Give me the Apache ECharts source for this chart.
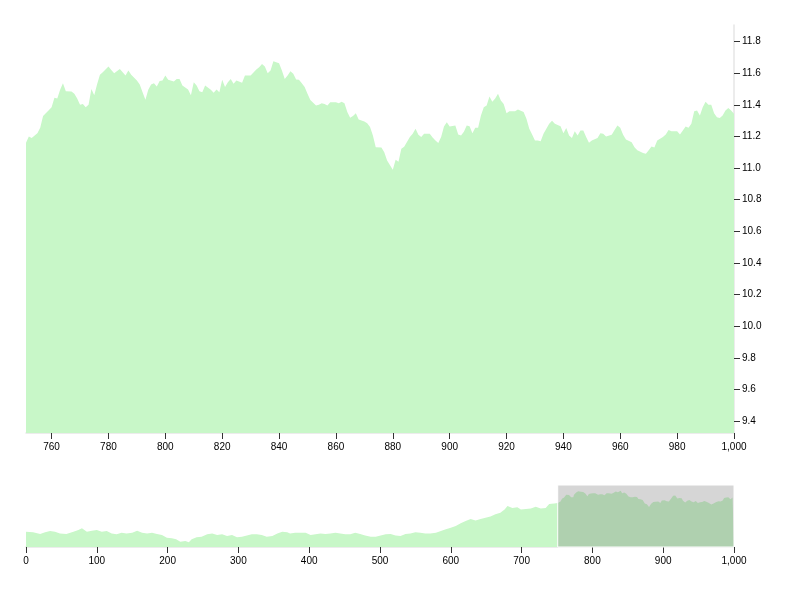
<!DOCTYPE html>
<html>
<head>
<meta charset="utf-8">
<script src="https://cdn.jsdelivr.net/npm/echarts@6/dist/echarts.min.js"></script>
<style>html,body{margin:0;padding:0;background:#fff}#c{width:800px;height:600px}</style>
</head>
<body>
<div id="c"></div>
<script>
// Overview (context) part of the series, 0..750
const ctxX = [0,10,20,27,34,41,48,57,67,74,79,86,93,100,107,114,121,128,135,142,150,157,164,171,178,185,192,199,206,212,218,225,230,234,241,248,256,263,270,277,284,291,298,305,312,319,326,333,340,348,355,362,369,373,380,388,395,402,409,416,423,430,437,444,451,458,465,472,479,487,494,501,508,515,522,529,536,543,550,557,564,571,579,586,593,600,607,614,621,628,635,642,649,656,663,670,676,680,687,694,699,706,713,720,727,734,739,746];
const ctxY = [9.96,9.94,9.87,9.94,9.99,9.96,9.89,9.87,9.96,10.03,10.10,9.96,10.0,10.03,9.96,9.99,9.89,9.85,9.92,9.89,9.92,10.0,9.92,9.89,9.92,9.87,9.82,9.71,9.69,9.645,9.545,9.57,9.52,9.645,9.73,9.75,9.85,9.89,9.82,9.85,9.78,9.82,9.73,9.75,9.80,9.85,9.85,9.82,9.75,9.78,9.89,9.96,9.94,9.89,9.92,9.92,9.92,9.82,9.85,9.89,9.87,9.89,9.92,9.89,9.85,9.85,9.92,9.87,9.80,9.75,9.75,9.80,9.85,9.87,9.80,9.78,9.87,9.89,9.94,9.92,9.89,9.89,9.92,9.99,10.06,10.13,10.20,10.31,10.41,10.49,10.43,10.49,10.54,10.59,10.69,10.75,10.89,11.03,10.95,10.98,10.89,10.91,10.93,11.0,10.93,10.95,11.11,11.13];
// Detailed (focus) part of the series, 751..1000
const mainX = [751,752,753,755,756,757,759,760,761,762,763,764,765,767,768,769,770,771,772,773,774,775,776,777,778,780,781,782,784,785,786,787,788,790,791,792,793,794,795,796,797,798,799,800,801,803,804,805,806,808,809,810,811,812,813,814,816,817,818,819,820,821,822,823,824,825,827,828,830,832,833,834,835,836,837,838,840,841,842,843,844,845,846,847,848,849,850,851,853,854,855,856,857,858,860,861,862,863,864,865,866,867,868,870,871,872,873,874,876,877,878,880,881,882,883,884,886,887,888,889,890,891,893,894,895,896,897,898,899,900,902,903,904,905,906,907,908,909,910,911,912,913,914,915,916,917,918,919,920,921,923,924,926,927,928,929,930,931,932,933,934,935,936,937,939,940,941,942,943,944,945,946,947,948,949,950,952,953,954,955,957,958,959,960,961,962,964,965,966,968,969,970,971,972,973,975,976,977,978,980,981,982,983,984,985,986,987,988,989,990,991,992,993,994,995,996,997,998,999,1000];
const mainY = [11.16,11.20,11.19,11.22,11.255,11.33,11.365,11.385,11.445,11.44,11.495,11.537,11.486,11.485,11.47,11.44,11.40,11.405,11.385,11.40,11.50,11.46,11.53,11.59,11.606,11.642,11.62,11.60,11.627,11.606,11.585,11.617,11.59,11.554,11.528,11.48,11.432,11.495,11.528,11.537,11.516,11.55,11.554,11.585,11.558,11.547,11.564,11.564,11.522,11.497,11.46,11.543,11.522,11.486,11.48,11.522,11.495,11.476,11.497,11.48,11.558,11.512,11.543,11.564,11.533,11.554,11.54,11.585,11.585,11.623,11.638,11.659,11.642,11.60,11.617,11.676,11.663,11.617,11.564,11.585,11.613,11.596,11.56,11.558,11.537,11.512,11.47,11.43,11.396,11.40,11.41,11.405,11.396,11.417,11.417,11.41,11.42,11.41,11.354,11.318,11.33,11.347,11.307,11.295,11.284,11.259,11.206,11.132,11.13,11.10,11.048,10.99,11.053,11.04,11.122,11.135,11.196,11.217,11.248,11.21,11.196,11.217,11.217,11.194,11.175,11.158,11.196,11.263,11.29,11.263,11.27,11.213,11.206,11.23,11.27,11.265,11.22,11.255,11.255,11.333,11.385,11.396,11.453,11.42,11.44,11.47,11.427,11.405,11.347,11.36,11.36,11.37,11.354,11.312,11.248,11.213,11.175,11.175,11.17,11.217,11.248,11.28,11.30,11.28,11.265,11.22,11.253,11.206,11.19,11.233,11.206,11.237,11.237,11.196,11.16,11.175,11.19,11.22,11.217,11.20,11.21,11.24,11.27,11.255,11.21,11.18,11.164,11.132,11.112,11.095,11.09,11.112,11.136,11.13,11.175,11.196,11.213,11.24,11.233,11.233,11.213,11.237,11.263,11.255,11.28,11.36,11.364,11.333,11.385,11.42,11.40,11.40,11.347,11.322,11.316,11.333,11.364,11.38,11.364,11.343];
const focusTicks = [760,780,800,820,840,860,880,900,920,940,960,980,1000];
const yTicks = [9.4,9.6,9.8,10.0,10.2,10.4,10.6,10.8,11.0,11.2,11.4,11.6,11.8];
const brushRange = [751, 1000];

const series = ctxX.map((x,i)=>[x,ctxY[i]]).concat(mainX.map((x,i)=>[x,mainY[i]]));
const FILL = '#c8f7c8';
const FONT = 'Liberation Sans, Arial, Helvetica, sans-serif';
const labelStyle = {color:'#000', fontSize:10, fontFamily:FONT};

const chart = echarts.init(document.getElementById('c'), null, {renderer:'canvas'});
chart.setOption({
  animation:false,
  backgroundColor:'#fff',
  grid:[
    {left:26, right:66, top:25, bottom:167},
    {left:26, right:66, top:485, bottom:53}
  ],
  xAxis:[
    {type:'value', gridIndex:0, min:brushRange[0], max:brushRange[1],
     axisLine:{show:true, onZero:false, lineStyle:{color:'#e6e6e6', width:1.5}},
     axisTick:{show:true, length:6, lineStyle:{color:'#333'}, customValues:focusTicks},
     axisLabel:{...labelStyle, margin:9, customValues:focusTicks},
     splitLine:{show:false}},
    {type:'value', gridIndex:1, min:0, max:1000, interval:100,
     axisLine:{show:true, onZero:false, lineStyle:{color:'#e6e6e6', width:1.5}},
     axisTick:{show:true, length:6, lineStyle:{color:'#333'}},
     axisLabel:{...labelStyle, margin:9},
     splitLine:{show:false}}
  ],
  yAxis:[
    {type:'value', gridIndex:0, position:'right', min:9.324, max:11.905,
     axisLine:{show:true, onZero:false, lineStyle:{color:'#e6e6e6', width:1.5}},
     axisTick:{show:true, length:6, lineStyle:{color:'#333'}, customValues:yTicks},
     axisLabel:{...labelStyle, margin:8, customValues:yTicks, formatter:v=>v.toFixed(1)},
     splitLine:{show:false}},
    {type:'value', gridIndex:1, min:9.324, max:11.905, show:false}
  ],
  series:[
    {type:'line', xAxisIndex:0, yAxisIndex:0, data:series, showSymbol:false, symbol:'none',
     lineStyle:{width:0, opacity:0}, areaStyle:{color:FILL, opacity:1}, clip:true, silent:true},
    {type:'line', xAxisIndex:1, yAxisIndex:1, data:series, showSymbol:false, symbol:'none',
     lineStyle:{width:0, opacity:0}, areaStyle:{color:FILL, opacity:1}, silent:true,
     markArea:{silent:true, z:10,
       itemStyle:{color:'rgba(119,119,119,0.3)', borderColor:'#fff', borderWidth:1},
       data:[[{xAxis:brushRange[0]},{xAxis:brushRange[1]}]]}}
  ]
});
</script>
</body>
</html>
